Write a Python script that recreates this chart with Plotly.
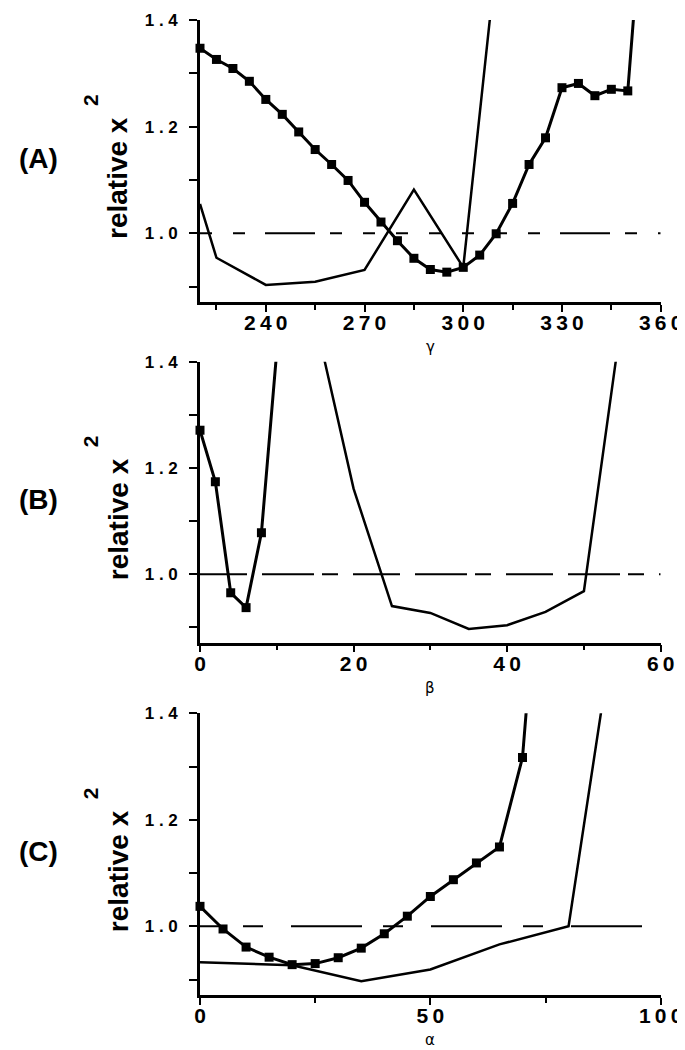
import plotly.graph_objects as go

# panel A : gamma scan
gamma_sq = [220, 225, 230, 235, 240, 245, 250, 255, 260, 265, 270, 275, 280, 285,
            290, 295, 300, 305, 310, 315, 320, 325, 330, 335, 340, 345, 350, 355]
chi_gamma_sq = [1.347, 1.326, 1.309, 1.285, 1.251, 1.223, 1.190, 1.157, 1.129, 1.099,
                1.058, 1.021, 0.986, 0.953, 0.932, 0.927, 0.936, 0.959, 0.999, 1.056,
                1.129, 1.179, 1.273, 1.281, 1.258, 1.270, 1.267, 1.66]
gamma_ln = [220, 225, 240, 255, 270, 285, 300, 315]
chi_gamma_ln = [1.055, 0.954, 0.903, 0.909, 0.931, 1.082, 0.936, 1.80]

# panel B : beta scan
beta_sq = [0, 2, 4, 6, 8, 10]
chi_beta_sq = [1.271, 1.174, 0.965, 0.937, 1.078, 1.42]
beta_ln = [15, 20, 25, 30, 35, 40, 45, 50, 55]
chi_beta_ln = [1.48, 1.161, 0.940, 0.927, 0.897, 0.904, 0.929, 0.968, 1.49]

# panel C : alpha scan
alpha_sq = [0, 5, 10, 15, 20, 25, 30, 35, 40, 45, 50, 55, 60, 65, 70, 72]
chi_alpha_sq = [1.0375, 0.995, 0.961, 0.942, 0.928, 0.930, 0.941, 0.959, 0.986, 1.019,
                1.056, 1.0875, 1.119, 1.149, 1.317, 1.53]
alpha_ln = [0, 20, 35, 50, 65, 80, 90]
chi_alpha_ln = [0.9325, 0.927, 0.897, 0.919, 0.966, 1.0, 1.57]

ref_level = 1.0
y_range = [0.871, 1.4]
y_major = [1.0, 1.2, 1.4]
y_minor = [0.9, 1.1, 1.3]

panels = [
    dict(tag='(A)', sym='γ', xr=[220, 360], major=[240, 270, 300, 330, 360],
         minor=[225, 255, 285, 315, 345],
         sq=(gamma_sq, chi_gamma_sq), ln=(gamma_ln, chi_gamma_ln),
         dash='12px,21px,12px,20px,50px,15px,12px,21px,12px,21px,12px,21px,12px,21px,12px,21px'),
    dict(tag='(B)', sym='β', xr=[0, 60], major=[0, 20, 40, 60], minor=[10, 30, 50],
         sq=(beta_sq, chi_beta_sq), ln=(beta_ln, chi_beta_ln),
         dash='47px,15px,52px,8px,16px,15px'),
    dict(tag='(C)', sym='α', xr=[0, 100], major=[0, 50, 100], minor=[25, 75],
         sq=(alpha_sq, chi_alpha_sq), ln=(alpha_ln, chi_alpha_ln),
         dash='22px,21px,20px,28px,49px,0px'),
]

# the page body adds an 8px margin, so the figure is drawn 8px in from the corner
OFF = 8
FW, FH = 685 - OFF, 1050 - OFF


def px(x):
    return (x - OFF) / FW


def py(y):
    return 1 - (y - OFF) / FH


x_dom = [px(200), px(660.7)]
# top / bottom pixel of each plot area in the 685x1050 window
boxes = [(20, 302), (361.7, 642.7), (713.3, 995)]

fig = go.Figure()
FONT = 'Liberation Sans'

for i, p in enumerate(panels):
    n = '' if i == 0 else str(i + 1)
    xa, ya = 'x' + n, 'y' + n
    top, bot = boxes[i]

    # reference level
    fig.add_trace(go.Scatter(x=p['xr'], y=[ref_level, ref_level], mode='lines',
                             line=dict(color='black', width=2, dash=p['dash']),
                             xaxis=xa, yaxis=ya, showlegend=False))
    # plain curve
    fig.add_trace(go.Scatter(x=p['ln'][0], y=p['ln'][1], mode='lines',
                             line=dict(color='black', width=2.5),
                             xaxis=xa, yaxis=ya, showlegend=False))
    # curve with squares
    sx, sy = p['sq']
    fig.add_trace(go.Scatter(x=sx, y=sy, mode='lines',
                             line=dict(color='black', width=3),
                             xaxis=xa, yaxis=ya, showlegend=False))
    fig.add_trace(go.Scatter(x=sx[:-1], y=sy[:-1], mode='markers', cliponaxis=False,
                             marker=dict(symbol='square', size=9, color='black'),
                             xaxis=xa, yaxis=ya, showlegend=False))

    fig.layout['xaxis' + n] = dict(
        domain=x_dom, anchor=ya, range=p['xr'], showgrid=False, zeroline=False,
        automargin=False,
        showline=True, linecolor='black', linewidth=2.5,
        ticks='outside', ticklen=7, tickwidth=2, tickcolor='black',
        tickvals=p['major'],
        ticktext=['<b>' + '\u2009'.join(str(v)) + '</b>' for v in p['major']],
        tickfont=dict(family=FONT, size=21, color='black'),
        ticklabelstandoff=-7,
        minor=dict(tickvals=p['minor'], ticks='outside', ticklen=5, tickwidth=2,
                   tickcolor='black'),
    )
    fig.layout['yaxis' + n] = dict(
        domain=[py(bot), py(top)], anchor=xa, range=y_range,
        showgrid=False, zeroline=False, automargin=False,
        showline=True, linecolor='black', linewidth=2.5,
        ticks='outside', ticklen=8, tickwidth=2, tickcolor='black',
        tickvals=y_major,
        ticktext=['<b>' + ' . '.join(f'{v:.1f}'.split('.')) + '</b>' for v in y_major],
        tickfont=dict(family=FONT, size=17, color='black'),
        ticklabelstandoff=8,
        minor=dict(tickvals=y_minor, ticks='outside', ticklen=8, tickwidth=2,
                   tickcolor='black'),
    )

    mid = (top + bot) / 2
    common = dict(xref='paper', yref='paper', showarrow=False,
                  xanchor='center', yanchor='middle')
    fig.add_annotation(text='<b>relative x</b>', x=px(118), y=py(mid + 17),
                       textangle=-90, font=dict(family=FONT, size=28, color='black'),
                       **common)
    fig.add_annotation(text='<b>2</b>', x=px(90), y=py(mid - 61), textangle=-90,
                       font=dict(family=FONT, size=21, color='black'), **common)
    fig.add_annotation(text='<b>' + p['tag'] + '</b>', x=px(38), y=py(top + 138),
                       font=dict(family=FONT, size=28, color='black'), **common)
    fig.add_annotation(text=p['sym'], x=px(430), y=py(bot + 45),
                       font=dict(family='DejaVu Sans', size=15, color='black'), **common)

fig.update_layout(width=FW, height=FH, margin=dict(l=0, r=0, t=0, b=0),
                  plot_bgcolor='white', paper_bgcolor='white', showlegend=False)

fig.write_html('out.html')
